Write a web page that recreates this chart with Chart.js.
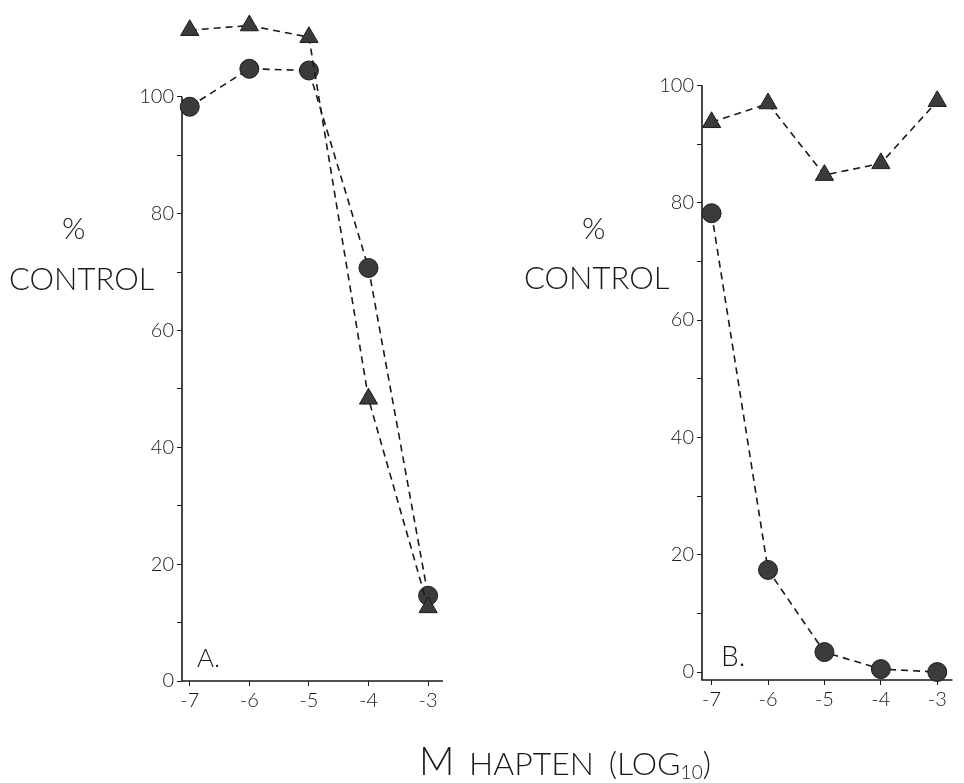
<!DOCTYPE html>
<html>
<head>
<meta charset="utf-8">
<script src="https://cdn.jsdelivr.net/npm/chart.js@4/dist/chart.umd.min.js"></script>
<style>
  html, body { margin: 0; padding: 0; background: #fff; }
  #page { position: relative; width: 964px; height: 783px; overflow: hidden;
          font-family: Lato, "DejaVu Sans", sans-serif; font-weight: 300; color: #1a1a1a; }
  .layer { position: absolute; left: 0; top: 0; }
  .lbl { position: absolute; white-space: nowrap; line-height: 1; }
</style>
</head>
<body>
<div id="page">
  <canvas id="chartA" class="layer" width="964" height="783"></canvas>
  <canvas id="chartB" class="layer" width="964" height="783"></canvas>

  <div class="lbl" style="left:62px; top:212px; font-size:30px;">%</div>
  <div class="lbl" style="left:9px; top:263px; font-size:31px;">CONTROL</div>
  <div class="lbl" style="left:582px; top:212px; font-size:30px;">%</div>
  <div class="lbl" style="left:524px; top:262px; font-size:31px;">CONTROL</div>

  <div class="lbl" style="left:197px; top:644px; font-size:26px;">A.</div>
  <div class="lbl" style="left:721px; top:641px; font-size:28px;">B.</div>

  <div class="lbl" style="left:419px; top:741px; font-size:32px; word-spacing:6px;">
    <span style="font-size:39px;">M</span> HAPTEN (LOG<sub style="font-size:19px; vertical-align:-4px;">10</sub>)
  </div>
</div>

<script>
// x positions (log10 molar hapten)
const xValues = [-7, -6, -5, -4, -3];
const xTicks = [-7, -6, -5, -4, -3];
const yTicks = [0, 20, 40, 60, 80, 100];
const yMinorTicks = [10, 30, 50, 70, 90];

// panel A
const aCircles = [98.3, 104.8, 104.5, 70.7, 14.6];
const aTriangles = [111.4, 112.2, 110.2, 48.3, 12.6];

// panel B
const bCircles = [78.2, 17.4, 3.4, 0.5, 0];
const bTriangles = [93.7, 96.9, 84.7, 86.7, 97.3];

const ink = '#1a1a1a';
const markFill = '#3b3b3b';

// axis lines: y axis only up to 100, x axis along the bottom
const axisLines = {
  id: 'axisLines',
  beforeDatasetsDraw(chart) {
    const ctx = chart.ctx;
    const area = chart.chartArea;
    const top = chart.scales.y.getPixelForValue(100);
    ctx.save();
    ctx.strokeStyle = ink;
    ctx.lineWidth = 1.6;
    ctx.beginPath();
    ctx.moveTo(area.left, top);
    ctx.lineTo(area.left, area.bottom);
    ctx.lineTo(area.right, area.bottom);
    ctx.stroke();
    ctx.restore();
  }
};

function makeSeries(values, style, radius) {
  return {
    data: xValues.map((x, i) => ({ x: x, y: values[i] })),
    borderColor: ink,
    borderWidth: 1.6,
    borderDash: [7, 5],
    pointStyle: style,
    pointRadius: radius,
    pointBackgroundColor: markFill,
    pointBorderColor: '#1c1c1c',
    pointBorderWidth: 1,
    clip: false,
    tension: 0
  };
}

function makeChart(id, circles, triangles, xr, yr, pad) {
  return new Chart(document.getElementById(id), {
    type: 'line',
    data: {
      datasets: [
        makeSeries(triangles, 'triangle', 10.5),
        makeSeries(circles, 'circle', 9.5)
      ]
    },
    options: {
      responsive: false,
      animation: false,
      events: [],
      layout: { padding: pad },
      plugins: { legend: { display: false }, tooltip: { enabled: false } },
      scales: {
        x: {
          type: 'linear',
          min: xr[0], max: xr[1],
          afterBuildTicks: s => { s.ticks = xTicks.map(v => ({ value: v })); },
          afterFit: s => { s.height = 40; },
          border: { display: false },
          grid: { drawOnChartArea: false, tickLength: 5, color: ink, lineWidth: 1 },
          ticks: { color: ink, padding: 3, font: { family: 'Lato', size: 20, weight: 300 } }
        },
        y: {
          min: yr[0], max: yr[1],
          afterBuildTicks: s => {
            s.ticks = yTicks.concat(yMinorTicks).sort((a, b) => a - b).map(v => ({ value: v }));
          },
          afterFit: s => { s.width = 60; },
          border: { display: false },
          grid: { drawOnChartArea: false, tickLength: 5, color: ink, lineWidth: 1 },
          ticks: {
            color: ink, padding: 3,
            font: { family: 'Lato', size: 20, weight: 300 },
            callback: v => yTicks.includes(v) ? String(v) : ''
          }
        }
      }
    },
    plugins: [axisLines]
  });
}

makeChart('chartA', aCircles, aTriangles, [-7.13, -2.75], [0, 114],
  { left: 122, right: 521, top: 11, bottom: 62 });
makeChart('chartB', bCircles, bTriangles, [-7.17, -2.73], [-1.36, 105],
  { left: 642, right: 0, top: 56, bottom: 63 });
</script>
</body>
</html>
